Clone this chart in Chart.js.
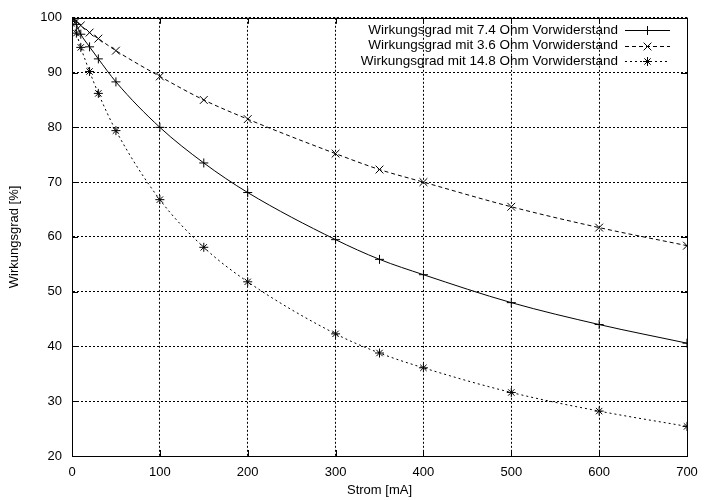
<!DOCTYPE html>
<html>
<head>
<meta charset="utf-8">
<script src="https://cdn.jsdelivr.net/npm/chart.js@4.4.1/dist/chart.umd.min.js"></script>
<style>
  html, body { margin: 0; padding: 0; background: #fff; }
  #wrap { width: 713px; height: 500px; }
</style>
</head>
<body>
<div id="wrap"><canvas id="effChart" width="713" height="500"></canvas></div>
<script>
// Wirkungsgrad vs. Strom for three series resistors
const current = [0, 5, 10, 20, 30, 50, 100, 150, 200, 300, 350, 400, 500, 600, 700];
const eff74  = [100, 98.8, 97.0, 94.7, 92.5, 88.3, 80.0, 73.5, 68.1, 59.5, 55.9, 53.1, 48.0, 44.0, 40.6];
const eff36  = [100, 99.4, 98.6, 97.3, 96.2, 94.0, 89.3, 85.0, 81.5, 75.2, 72.3, 70.0, 65.5, 61.7, 58.4];
const eff148 = [99.6, 97.2, 94.6, 90.2, 86.2, 79.4, 66.8, 58.1, 51.8, 42.3, 38.8, 36.1, 31.6, 28.2, 25.4];
const labels = [
    'Wirkungsgrad mit 7.4 Ohm Vorwiderstand',
    'Wirkungsgrad mit 3.6 Ohm Vorwiderstand',
    'Wirkungsgrad mit 14.8 Ohm Vorwiderstand'
];
const xTicks = [0, 100, 200, 300, 400, 500, 600, 700];
const yTicks = [20, 30, 40, 50, 60, 70, 80, 90, 100];

const FONT = 'Liberation Sans, Arial, sans-serif';

function toPoints(ys) {
    return current.map((x, i) => ({ x: x, y: ys[i] }));
}

function makeSet(label, ys, dash, style, radius) {
    return {
        label: label,
        data: toPoints(ys),
        borderColor: '#000',
        borderWidth: 1,
        borderDash: dash,
        pointStyle: style,
        pointRadius: radius,
        pointBorderColor: '#000',
        pointBorderWidth: 1,
        pointBackgroundColor: '#000',
        cubicInterpolationMode: 'monotone',
        fill: false
    };
}

// frame, inward ticks and gnuplot-style legend
const framePlugin = {
    id: 'frame',
    afterDatasetsDraw(chart) {
        const ctx = chart.ctx;
        const a = chart.chartArea;
        const xs = chart.scales.x, ys = chart.scales.y;
        ctx.save();
        ctx.strokeStyle = '#000';
        ctx.lineWidth = 1;
        ctx.setLineDash([]);
        ctx.strokeRect(Math.round(a.left) + 0.5, Math.round(a.top) + 0.5,
            Math.round(a.right - a.left), Math.round(a.bottom - a.top));
        const tl = 6;
        ctx.beginPath();
        xTicks.forEach(v => {
            const px = Math.round(xs.getPixelForValue(v)) + 0.5;
            ctx.moveTo(px, a.bottom); ctx.lineTo(px, a.bottom - tl);
            ctx.moveTo(px, a.top); ctx.lineTo(px, a.top + tl);
        });
        yTicks.forEach(v => {
            const py = Math.round(ys.getPixelForValue(v)) + 0.5;
            ctx.moveTo(a.left, py); ctx.lineTo(a.left + tl, py);
            ctx.moveTo(a.right, py); ctx.lineTo(a.right - tl, py);
        });
        ctx.stroke();

        // legend (text right aligned, sample on the right)
        ctx.font = '13.5px ' + FONT;
        ctx.fillStyle = '#000';
        ctx.textAlign = 'right';
        ctx.textBaseline = 'middle';
        const textRight = 618, lx1 = 625, lx2 = 670;
        const rowY = [30, 45.5, 61];
        chart.data.datasets.forEach((ds, i) => {
            const y = Math.round(rowY[i]) + 0.5;
            ctx.fillText(ds.label, textRight, rowY[i]);
            ctx.setLineDash(ds.borderDash || []);
            ctx.beginPath();
            ctx.moveTo(lx1, y); ctx.lineTo(lx2, y);
            ctx.stroke();
            ctx.setLineDash([]);
            Chart.helpers.drawPoint(ctx, {
                pointStyle: ds.pointStyle, radius: ds.pointRadius,
                rotation: 0, borderWidth: 1
            }, (lx1 + lx2) / 2, y);
        });
        ctx.restore();
    }
};

const ctx = document.getElementById('effChart');
new Chart(ctx, {
    type: 'line',
    data: {
        datasets: [
            makeSet(labels[0], eff74, [], 'cross', 4.5),
            makeSet(labels[1], eff36, [4, 3], 'crossRot', 5.5),
            makeSet(labels[2], eff148, [2, 3], 'star', 4.5)
        ]
    },
    options: {
        responsive: false,
        animation: false,
        layout: { padding: { top: 17, right: 26, left: 0, bottom: 0 } },
        plugins: {
            legend: { display: false },
            tooltip: { enabled: false }
        },
        scales: {
            x: {
                type: 'linear',
                min: 0,
                max: 700,
                afterFit: function(scale) { scale.height = 44; },
                afterBuildTicks: function(scale) { scale.ticks = xTicks.map(v => ({ value: v })); },
                ticks: { color: '#000', padding: 9, font: { family: FONT, size: 13 } },
                grid: { color: '#000', lineWidth: 1, drawTicks: false },
                border: { display: true, color: '#000', dash: [2, 2] },
                title: {
                    display: true,
                    text: 'Strom [mA]',
                    color: '#000',
                    font: { family: FONT, size: 13 },
                    padding: { top: 0, bottom: 2 }
                }
            },
            y: {
                min: 20,
                max: 100,
                afterFit: function(scale) { scale.width = 72; },
                afterBuildTicks: function(scale) { scale.ticks = yTicks.map(v => ({ value: v })); },
                ticks: { color: '#000', padding: 10, font: { family: FONT, size: 13 } },
                grid: { color: '#000', lineWidth: 1, drawTicks: false },
                border: { display: true, color: '#000', dash: [2, 2] },
                title: {
                    display: true,
                    text: 'Wirkungsgrad [%]',
                    color: '#000',
                    font: { family: FONT, size: 13 },
                    padding: { top: 7, bottom: 0 }
                }
            }
        }
    },
    plugins: [framePlugin]
});
</script>
</body>
</html>
